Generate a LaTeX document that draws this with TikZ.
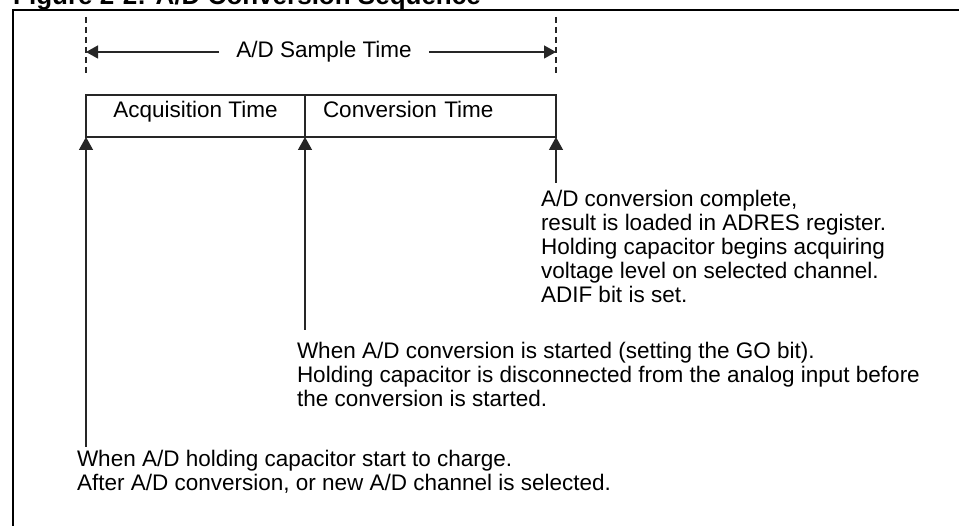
\documentclass[tikz,border=0pt]{standalone}
\usepackage{fontspec}
\setmainfont{Liberation Sans}
\usetikzlibrary{arrows.meta}
\begin{document}
\begin{tikzpicture}[x=1pt,y=-1pt,
  txt/.style={font=\fontsize{22.5}{24}\selectfont, inner sep=0pt, outer sep=0pt, align=left, anchor=north west},
  thinline/.style={line width=1.3pt, draw=black!85},
  uparrow/.style={thinline, -{Triangle[width=14pt,length=13pt]}},
  dimarrow/.style={thinline, -{Triangle[width=13pt,length=12pt]}},
  dashline/.style={thinline, dash pattern=on 6pt off 4pt},
  boxnode/.style={draw=black!85, line width=1.3pt, minimum height=42pt, inner sep=0pt, outer sep=0pt,
    text height=12pt, text depth=8pt, font=\fontsize{22.5}{24}\selectfont, anchor=north west},
  frame/.style={draw=black, line width=2.5pt}
]
\useasboundingbox (0,0) rectangle (959,526);
% outer frame (extends past the picture)
\coordinate (fbl) at (13,600);
\coordinate (ftl) at (13,10);
\coordinate (ftr) at (1000,10);
\draw[frame] (fbl) -- (ftl) -- (ftr);
\node[font=\bfseries\fontsize{26}{30}\selectfont, anchor=base west, inner sep=0pt] (title) at (13,5)
  {Figure 2-2: A/D Conversion Sequence};

% boxes
\node[boxnode, minimum width=219pt] (acq) at (86,95) {Acquisition Time};
\node[boxnode, text width=215pt, inner xsep=18pt, align=left] (conv) at (acq.north east) {Conversion Time};

% dashed limits
\coordinate (dlt) at (86,17);
\coordinate (dlb) at (86,75);
\coordinate (drt) at (556,17);
\coordinate (drb) at (556,75);
\draw[dashline] (dlt) -- (dlb);
\draw[dashline] (drt) -- (drb);

% sample time dimension
\node[font=\fontsize{22.5}{24}\selectfont, inner xsep=17pt, inner ysep=0pt] (sample) at (324,52) {A/D Sample Time};
\coordinate (sl) at (86,52);
\coordinate (sr) at (556,52);
\draw[dimarrow] (sample.west) -- (sl);
\draw[dimarrow] (sample.east) -- (sr);

% event arrows
\coordinate (pa) at (86,447);
\coordinate (pb) at (305,330);
\coordinate (pc) at (556,183);
\draw[uparrow] (pa) -- (acq.south west);
\draw[uparrow] (pb) -- (acq.south east);
\draw[uparrow] (pc) -- (conv.south east);

% annotations
\node[txt] (tc) at (541,190) {A/D conversion complete,\\result is loaded in ADRES register.\\Holding capacitor begins acquiring\\voltage level on selected channel.\\ADIF bit is set.};
\node[txt] (tb) at (297,342) {When A/D conversion is started (setting the GO bit).\\Holding capacitor is disconnected from the analog input before\\the conversion is started.};
\node[txt] (ta) at (77,450) {When A/D holding capacitor start to charge.\\After A/D conversion, or new A/D channel is selected.};
\end{tikzpicture}
\end{document}
